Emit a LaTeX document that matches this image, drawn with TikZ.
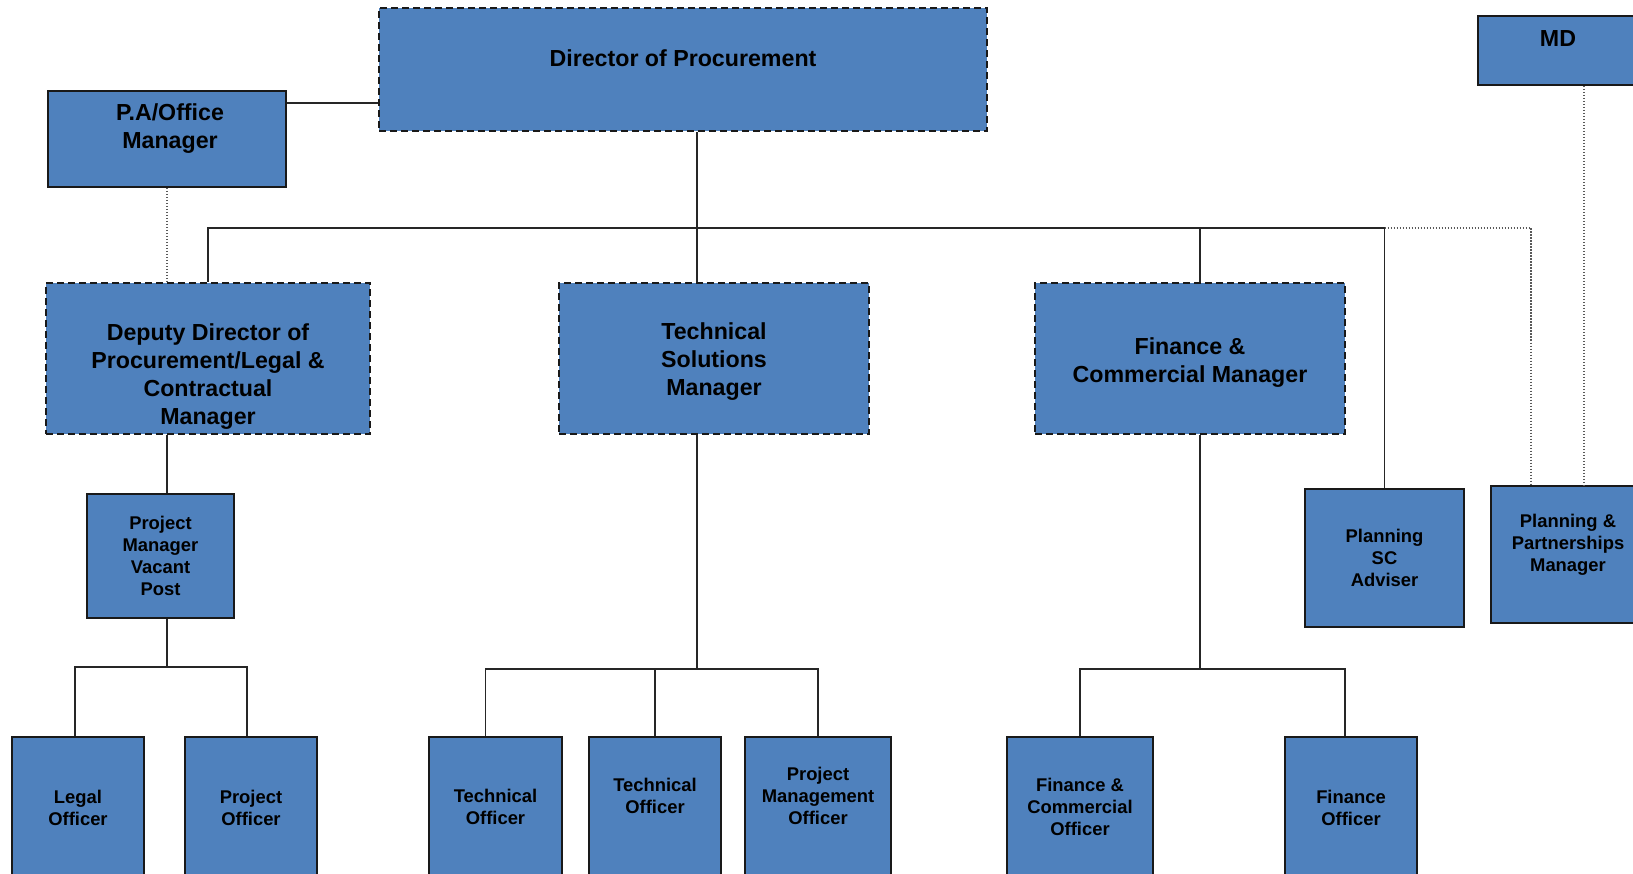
\documentclass[tikz,border=0pt]{standalone}
\usepackage{fontspec}
\setmainfont{Liberation Sans}
\definecolor{boxblue}{RGB}{79,129,189}

\begin{document}
\begin{tikzpicture}[x=1pt,y=-1pt,
  box/.style={draw=black!90, fill=boxblue, line width=1.6pt, inner sep=0pt},
  post/.style={box, dash pattern=on 7pt off 4pt},
  dim/.style 2 args={minimum width=#1pt, minimum height=#2pt},
  big/.style={font=\bfseries\fontsize{23.2}{28}\selectfont, align=center},
  small/.style={font=\bfseries\fontsize{18.4}{22}\selectfont, align=center},
  link/.style={draw=black!85, line width=1.5pt},
  dotlink/.style={draw=black!65, line width=1.5pt, dash pattern=on 1.5pt off 1.5pt}]
\useasboundingbox (0,0) rectangle (1633,874);

% top row
\node[post, dim={608}{123}] (dir) at (683,69.5) {};
\node[big] (dir-t) at (683,58) {Director of Procurement};
\node[box, dim={238}{96}] (pa) at (167,139) {};
\node[big] (pa-t) at (170,129) {P.A/Office\\Manager};
\node[box, dim={160}{69}] (md) at (1558,50.5) {};
\node[big] (md-t) at (1558,39) {MD};

% managers
\node[post, dim={324}{151}] (dep) at (208,358.5) {};
\node[big] (dep-t) at (208,377) {Deputy Director of\\Procurement/Legal \&\\Contractual\\Manager};
\node[post, dim={310}{151}] (tech) at (714,358.5) {};
\node[big] (tech-t) at (714,362) {Technical\\Solutions\\Manager};
\node[post, dim={310}{151}] (fin) at (1190,358.5) {};
\node[big] (fin-t) at (1190,362.5) {Finance \&\\Commercial Manager};
\node[box, small, dim={147}{124}] (pm) at (160.5,556) {Project\\Manager\\Vacant\\Post};
\node[box, small, dim={159}{138}] (sc) at (1384.5,558) {Planning\\SC\\Adviser};
\node[box, dim={154}{137}] (pp) at (1568,554.5) {};
\node[small] (pp-t) at (1568,545) {Planning \&\\Partnerships\\Manager};

% officers
\foreach \n/\x/\w in {legal/78/132, proj/251/132, to1/495.5/133, to2/655/132,
                      pmo/818/146, fco/1080/146, fo/1351/132}
  \node[box, dim={\w}{153}] (\n) at (\x,813.5) {};
\node[small] (legal-t) at (78,808) {Legal\\Officer};
\node[small] (proj-t) at (251,808) {Project\\Officer};
\node[small] (to1-t) at (495.5,807) {Technical\\Officer};
\node[small] (to2-t) at (655,796) {Technical\\Officer};
\node[small] (pmo-t) at (818,796) {Project\\Management\\Officer};
\node[small] (fco-t) at (1080,807) {Finance \&\\Commercial\\Officer};
\node[small] (fo-t) at (1351,808) {Finance\\Officer};

% split points
\coordinate (bus) at (697,228);
\coordinate (lsp) at (167,667);
\coordinate (msp) at (697,669);
\coordinate (rsp) at (1200,669);
\coordinate (pa-r) at ([yshift=-13pt]pa.north east);

\draw[link] (pa-r) -- (pa-r -| dir.west);
\draw[link] (bus |- dir.south) -- (bus |- tech.north);
\draw[link] (dep.north) |- (sc.north |- bus) -- (sc.north);
\draw[link] (rsp |- fin.north) -- (rsp |- bus);
\draw[dotlink] (pa.south) -- (pa.south |- dep.north);
\draw[dotlink] (sc.north |- bus) -| ([xshift=-37pt]pp.north);
\draw[dotlink] ([xshift=26pt]md.south) -- ([xshift=16pt]pp.north);

\draw[link] (lsp |- dep.south) -- (lsp |- pm.north);
\draw[link] (lsp |- pm.south) -- (lsp);
\draw[link] ([xshift=-3pt]legal.north) |- (lsp) -| ([xshift=-4pt]proj.north);
\draw[link] (msp |- tech.south) -- (msp);
\draw[link] ([xshift=-10pt]to1.north) |- (msp) -| (pmo.north);
\draw[link] (to2.north) -- (to2.north |- msp);
\draw[link] (rsp |- fin.south) -- (rsp);
\draw[link] (fco.north) |- (rsp) -| ([xshift=-6pt]fo.north);
\end{tikzpicture}
\end{document}
